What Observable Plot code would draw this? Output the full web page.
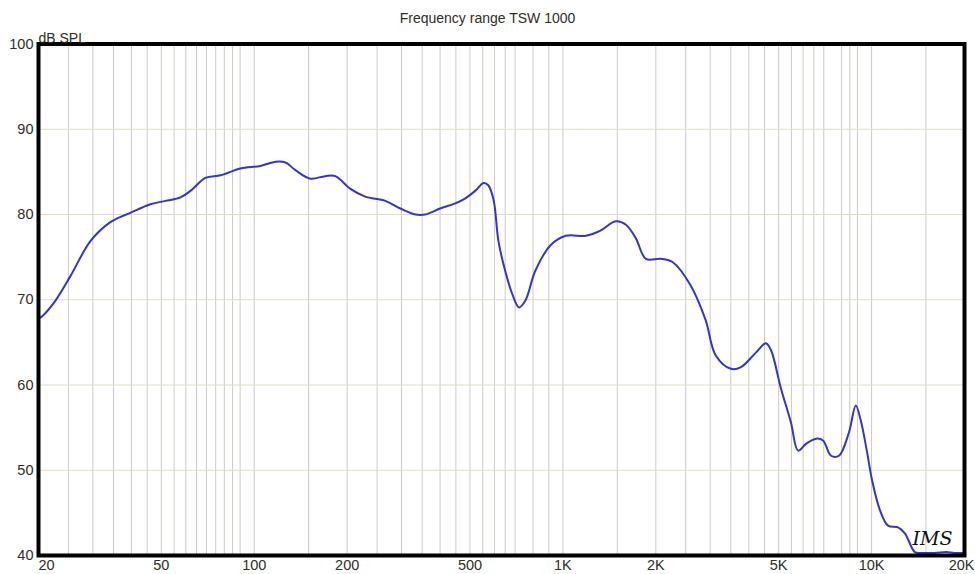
<!DOCTYPE html>
<html>
<head>
<meta charset="utf-8">
<script src="https://cdn.jsdelivr.net/npm/d3@7"></script>
<script src="https://cdn.jsdelivr.net/npm/@observablehq/plot@0.6"></script>
<style>
  html, body { margin: 0; padding: 0; background: #fff; }
  #title { height: 30px; line-height: 30px; padding-top: 3px; box-sizing: border-box; text-align: center;
           font-family: "Liberation Sans", Arial, sans-serif; font-size: 14px; color: #2e2e28; width: 975px; }
  #chart svg { display: block; }
</style>
</head>
<body>
<div id="title">Frequency range TSW 1000</div>
<div id="chart"></div>
<script>
// Frequency response (Hz) and level (dB SPL)
const freqs = [20, 20.6, 22.7, 25.4, 29.5, 34.2, 39.7, 46.1, 51.6, 57.7, 62.3, 69.5, 77.8, 90.2, 104.8, 117.4, 126.3, 136, 152, 169.6, 183,
  205, 228.6, 265.8, 297.6, 333, 358, 400, 448, 483, 521, 553, 574, 597, 618, 650, 688, 721, 756, 814, 912, 1022, 1187, 1323, 1483,
  1600, 1723, 1857, 2073, 2270, 2591, 2900, 3124, 3500, 3775, 4218, 4545, 4720, 5086, 5480, 5780, 6130, 6610, 6960, 7390, 7840,
  8440, 8890, 9230, 9650, 10040, 10650, 11300, 12180, 12820, 13810, 14500, 16000, 17500, 18500, 20000];
const spl = [67.8, 68.1, 69.9, 72.8, 76.9, 79.1, 80.2, 81.2, 81.6, 82.0, 82.8, 84.3, 84.6, 85.4, 85.7, 86.2, 86.1, 85.2, 84.2, 84.5, 84.5,
  83.0, 82.1, 81.6, 80.7, 80.0, 80.0, 80.7, 81.3, 81.9, 82.8, 83.7, 83.4, 81.6, 76.9, 73.4, 70.5, 69.1, 69.9, 73.4, 76.4, 77.5, 77.5, 78.1, 79.2,
  78.8, 77.2, 74.8, 74.8, 74.4, 71.7, 67.6, 63.5, 61.9, 62.1, 63.8, 64.9, 64.1, 59.6, 55.6, 52.3, 53.1, 53.7, 53.5, 51.7, 51.7,
  54.4, 57.6, 55.8, 52.3, 48.8, 45.3, 43.5, 43.3, 42.6, 40.4, 40.3, 40.3, 40.4, 40.3, 40.3];

// Axes and grid
const yTicks = [40, 50, 60, 70, 80, 90, 100];
const yGrid = [50, 60, 70, 80, 90];
const xTickValues = [20, 50, 100, 200, 500, 1000, 2000, 5000, 10000, 20000];
const xTickLabels = ["20", "50", "100", "200", "500", "1K", "2K", "5K", "10K", "20K"];
const xGrid = [25, 30, 35, 40, 45, 50, 55, 60, 65, 70, 75, 80, 85, 90, 100,
  150, 200, 250, 300, 350, 400, 450, 500, 550, 600, 650, 700, 800, 900, 1000,
  1500, 2000, 2500, 3000, 3500, 4000, 4500, 5000, 5500, 6000, 6500, 7000, 8000, 8500, 9000, 10000, 15000];

const curve = freqs.map((f, i) => ({f, db: spl[i]}));
const xTicks = xTickValues.map((v, i) => ({v, label: xTickLabels[i]}));
const font = "Liberation Sans, Arial, sans-serif";
const ink = "#2e2e28";
const nx = xTicks.length;

const chart = Plot.plot({
  width: 975,
  height: 544,
  marginLeft: 38,
  marginRight: 11,
  marginTop: 13.5,
  marginBottom: 19,
  style: {fontFamily: font, background: "#fff"},
  x: {type: "log", domain: [20, 20000], axis: null},
  y: {domain: [40, 100], axis: null},
  marks: [
    Plot.ruleX(xGrid, {stroke: "#cbcbc4", strokeWidth: 1}),
    Plot.ruleY(yGrid, {stroke: "#dedcc4", strokeWidth: 1}),
    Plot.line(curve, {x: "f", y: "db", stroke: "#3434d6", strokeWidth: 2, curve: "catmull-rom", clip: true}),
    Plot.frame({stroke: "#000", strokeWidth: 4}),
    Plot.axisY(yTicks, {label: null, tickSize: 0, tickPadding: 5, fontSize: 14.5, fill: ink}),
    Plot.text(xTicks.slice(0, 1), {x: "v", text: "label", frameAnchor: "bottom", textAnchor: "start",
      lineAnchor: "top", dy: 4, fontSize: 14.5, fill: ink}),
    Plot.text(xTicks.slice(1, nx - 1), {x: "v", text: "label", frameAnchor: "bottom", textAnchor: "middle",
      lineAnchor: "top", dy: 4, fontSize: 14.5, fill: ink}),
    Plot.text(xTicks.slice(nx - 1), {x: "v", text: "label", frameAnchor: "bottom", textAnchor: "end",
      lineAnchor: "top", dy: 4, dx: 10, fontSize: 14.5, fill: ink}),
    Plot.text(["dB SPL"], {frameAnchor: "top-left", textAnchor: "start", lineAnchor: "bottom", dy: -1, dx: 0,
      fontSize: 14, fill: ink}),
    Plot.text(["IMS"], {frameAnchor: "bottom-right", textAnchor: "end", lineAnchor: "bottom", dx: -12, dy: -11,
      fontSize: 19, fontStyle: "italic", fontFamily: "DejaVu Serif, serif", fill: "#111"})
  ]
});
document.getElementById("chart").appendChild(chart);
</script>
</body>
</html>
